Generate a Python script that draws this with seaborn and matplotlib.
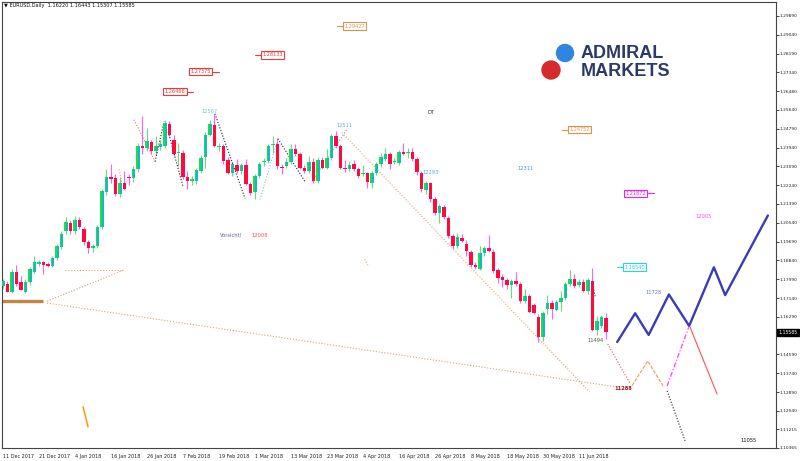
import matplotlib
matplotlib.use("Agg")
import matplotlib.pyplot as plt
import pandas as pd
import seaborn as sns
from matplotlib.patches import Ellipse

sns.set_theme(style="white")
plt.rcParams["font.family"] = ["DejaVu Sans"]

# --- EURUSD daily candles, 11 Dec 2017 .. 19 Jun 2018 ---
opens = [1.1770, 1.1778, 1.1743, 1.1830, 1.1785, 1.1743, 1.1785, 1.1830, 1.1868, 1.1875,
         1.1869, 1.1860, 1.1893, 1.1943, 1.2015, 1.2055, 1.2015, 1.2067, 1.2028, 1.1968,
         1.1938, 1.1950, 1.2033, 1.2193, 1.2262, 1.2255, 1.2183, 1.2235, 1.2262, 1.2255,
         1.2295, 1.2403, 1.2391, 1.2418, 1.2378, 1.2397, 1.2400, 1.2501, 1.2427, 1.2370,
         1.2370, 1.2262, 1.2243, 1.2243, 1.2288, 1.2352, 1.2453, 1.2498, 1.2397, 1.2400,
         1.2337, 1.2280, 1.2316, 1.2288, 1.2313, 1.2231, 1.2193, 1.2265, 1.2328, 1.2333,
         1.2405, 1.2408, 1.2306, 1.2310, 1.2330, 1.2388, 1.2363, 1.2303, 1.2288, 1.2330,
         1.2243, 1.2337, 1.2303, 1.2348, 1.2445, 1.2400, 1.2303, 1.2298, 1.2318, 1.2298,
         1.2273, 1.2277, 1.2235, 1.2280, 1.2318, 1.2343, 1.2363, 1.2330, 1.2322, 1.2375,
         1.2368, 1.2375, 1.2343, 1.2277, 1.2202, 1.2232, 1.2160, 1.2099, 1.2125, 1.2077,
         1.1994, 1.1950, 1.1987, 1.1957, 1.1924, 1.1864, 1.1847, 1.1916, 1.1938, 1.1923,
         1.1841, 1.1809, 1.1796, 1.1772, 1.1791, 1.1779, 1.1701, 1.1721, 1.1681, 1.1626,
         1.1540, 1.1663, 1.1693, 1.1660, 1.1697, 1.1716, 1.1776, 1.1799, 1.1772, 1.1787,
         1.1746, 1.1791, 1.1569, 1.1588, 1.16220]
highs = [1.1800, 1.1793, 1.1845, 1.1865, 1.1815, 1.1800, 1.1855, 1.1905, 1.1885, 1.1880,
         1.1878, 1.1905, 1.1960, 1.2015, 1.2078, 1.2065, 1.2085, 1.2080, 1.2035, 1.1975,
         1.1960, 1.2045, 1.2205, 1.2295, 1.2318, 1.2275, 1.2260, 1.2288, 1.2275, 1.2310,
         1.2415, 1.2535, 1.2483, 1.2430, 1.2448, 1.2430, 1.2517, 1.2513, 1.2450, 1.2415,
         1.2385, 1.2288, 1.2265, 1.2300, 1.2360, 1.2465, 1.2517, 1.2547, 1.2415, 1.2410,
         1.2350, 1.2330, 1.2343, 1.2325, 1.2343, 1.2240, 1.2275, 1.2330, 1.2345, 1.2410,
         1.2445, 1.2438, 1.2320, 1.2345, 1.2408, 1.2412, 1.2375, 1.2315, 1.2355, 1.2345,
         1.2350, 1.2350, 1.2388, 1.2455, 1.2468, 1.2410, 1.2340, 1.2335, 1.2340, 1.2305,
         1.2313, 1.2285, 1.2290, 1.2330, 1.2370, 1.2393, 1.2375, 1.2345, 1.2385, 1.2415,
         1.2393, 1.2390, 1.2350, 1.2290, 1.2245, 1.2240, 1.2170, 1.2140, 1.2135, 1.2085,
         1.2005, 1.2009, 1.2003, 1.1975, 1.1930, 1.1875, 1.1949, 1.1950, 1.1997, 1.1935,
         1.1850, 1.1821, 1.1805, 1.1800, 1.1832, 1.1785, 1.1754, 1.1730, 1.1690, 1.1640,
         1.1655, 1.1727, 1.1705, 1.1705, 1.1746, 1.1785, 1.1841, 1.1821, 1.1800, 1.1800,
         1.1806, 1.1851, 1.1633, 1.1635, 1.16443]
lows = [1.1760, 1.1740, 1.1735, 1.1770, 1.1748, 1.1737, 1.1775, 1.1825, 1.1860, 1.1823,
        1.1852, 1.1855, 1.1885, 1.1935, 1.2005, 1.2005, 1.2005, 1.2025, 1.1955, 1.1917,
        1.1923, 1.1940, 1.2025, 1.2180, 1.2235, 1.2175, 1.2170, 1.2200, 1.2225, 1.2240,
        1.2285, 1.2363, 1.2380, 1.2365, 1.2360, 1.2385, 1.2390, 1.2445, 1.2355, 1.2310,
        1.2250, 1.2208, 1.2225, 1.2230, 1.2280, 1.2303, 1.2445, 1.2395, 1.2380, 1.2320,
        1.2275, 1.2265, 1.2280, 1.2275, 1.2225, 1.2180, 1.2160, 1.2255, 1.2310, 1.2325,
        1.2370, 1.2295, 1.2273, 1.2300, 1.2320, 1.2355, 1.2295, 1.2280, 1.2280, 1.2235,
        1.2235, 1.2295, 1.2295, 1.2340, 1.2390, 1.2295, 1.2285, 1.2290, 1.2290, 1.2255,
        1.2265, 1.2212, 1.2212, 1.2270, 1.2305, 1.2335, 1.2295, 1.2320, 1.2315, 1.2360,
        1.2348, 1.2335, 1.2268, 1.2195, 1.2183, 1.2150, 1.2090, 1.2054, 1.2070, 1.1985,
        1.1935, 1.1940, 1.1965, 1.1905, 1.1855, 1.1845, 1.1840, 1.1905, 1.1920, 1.1828,
        1.1784, 1.1766, 1.1754, 1.1716, 1.1770, 1.1690, 1.1690, 1.1645, 1.1640, 1.1513,
        1.1521, 1.1641, 1.1618, 1.1656, 1.1656, 1.1705, 1.1770, 1.1760, 1.1765, 1.1740,
        1.1731, 1.1564, 1.1546, 1.1580, 1.15307]
closes = [1.1793, 1.1743, 1.1830, 1.1778, 1.1752, 1.1788, 1.1845, 1.1875, 1.1875, 1.1863,
          1.1860, 1.1893, 1.1947, 1.2003, 1.2058, 1.2015, 1.2067, 1.2033, 1.1968, 1.1938,
          1.1950, 1.2033, 1.2198, 1.2262, 1.2250, 1.2183, 1.2235, 1.2208, 1.2256, 1.2295,
          1.2403, 1.2391, 1.2424, 1.2378, 1.2400, 1.2412, 1.2505, 1.2453, 1.2363, 1.2373,
          1.2262, 1.2243, 1.2250, 1.2292, 1.2348, 1.2453, 1.2502, 1.2403, 1.2403, 1.2333,
          1.2280, 1.2318, 1.2288, 1.2313, 1.2231, 1.2190, 1.2265, 1.2318, 1.2333, 1.2400,
          1.2408, 1.2310, 1.2303, 1.2330, 1.2388, 1.2366, 1.2303, 1.2288, 1.2330, 1.2243,
          1.2337, 1.2303, 1.2348, 1.2445, 1.2400, 1.2303, 1.2298, 1.2313, 1.2298, 1.2265,
          1.2280, 1.2238, 1.2280, 1.2318, 1.2352, 1.2363, 1.2320, 1.2333, 1.2375, 1.2366,
          1.2372, 1.2343, 1.2284, 1.2205, 1.2232, 1.2160, 1.2099, 1.2129, 1.2081, 1.1994,
          1.1950, 1.1991, 1.1972, 1.1927, 1.1864, 1.1852, 1.1919, 1.1938, 1.1926, 1.1836,
          1.1806, 1.1796, 1.1772, 1.1791, 1.1779, 1.1701, 1.1724, 1.1652, 1.1648, 1.1540,
          1.1644, 1.1693, 1.1663, 1.1697, 1.1716, 1.1776, 1.1799, 1.1769, 1.1787, 1.1746,
          1.1796, 1.1569, 1.1608, 1.1626, 1.15585]

date_labels = ["11 Dec 2017", "21 Dec 2017", "4 Jan 2018", "16 Jan 2018", "26 Jan 2018",
               "7 Feb 2018", "19 Feb 2018", "1 Mar 2018", "13 Mar 2018", "23 Mar 2018",
               "4 Apr 2018", "16 Apr 2018", "26 Apr 2018", "8 May 2018", "18 May 2018",
               "30 May 2018", "11 Jun 2018"]
price_ticks = [1.29890, 1.29040, 1.28190, 1.27340, 1.26480, 1.25640, 1.24790, 1.23940,
               1.23090, 1.22240, 1.21390, 1.20540, 1.19690, 1.18840, 1.17990, 1.17140,
               1.16290, 1.14590, 1.13740, 1.12890, 1.12040, 1.11215, 1.10365]
last_price = 1.15585

# projected wave path (bar index, price)
proj_x = [136.5, 140.5, 143.5, 148.0, 152.5, 158.0, 160.5, 170.0]
proj_y = [1.1515, 1.1645, 1.1547, 1.1730, 1.1588, 1.1853, 1.1727, 1.2087]

# hand drawn lines on the chart (bar index, price)
base_x, base_y = [-0.2, 8.9], [1.1700, 1.1700]
fan_up_x, fan_up_y = [9.8, 26.7], [1.1700, 1.1839]
fan_flat_x, fan_flat_y = [13.8, 26.7], [1.1839, 1.1839]
fan_down_x, fan_down_y = [9.8, 136.4], [1.1691, 1.1312]
drop_x, drop_y = [75.3, 130.4], [1.2462, 1.1289]
tick_x, tick_y = [80.4, 81.1], [1.1889, 1.1862]
orange_x, orange_y = [17.8, 18.9], [1.1222, 1.1132]
zig_tan_x, zig_tan_y = [139.8, 143.3, 146.7], [1.1318, 1.1429, 1.1316]
red_dot_x, red_dot_y = [134.4, 139.3], [1.1506, 1.1330]
mag_x, mag_y = [147.6, 152.4], [1.1316, 1.1582]
red_x, red_y = [152.7, 158.7], [1.1582, 1.1280]
blk_x, blk_y = [147.6, 151.6], [1.1294, 1.1068]
w1_x, w1_y = [29.1, 33.8], [1.2520, 1.2331]
w2_x, w2_y = [33.8, 35.8], [1.2331, 1.2511]
w3_x, w3_y = [36.7, 40.0], [1.2466, 1.2218]
w4_x, w4_y = [25.8, 26.4], [1.2295, 1.2236]
w5_x, w5_y = [47.1, 53.8], [1.2547, 1.2164]
w6_x, w6_y = [57.1, 61.1], [1.2159, 1.2434]
w7_x, w7_y = [61.1, 67.1], [1.2434, 1.2241]
w8_x, w8_y = [68.7, 76.4], [1.2241, 1.2475]
w9_x, w9_y = [130.9, 131.6], [1.1790, 1.1722]

# price level boxes
level_vals = [1.26466, 1.27375, 1.28133, 1.29427, 1.24752, 1.21872, 1.18540]
level_bar = [35.6, 41.3, 57.3, 75.6, 125.6, 138.0, 137.8]
level_side = ["right", "right", "left", "left", "left", "right", "left"]
level_col = ["#F03A3A", "#F03A3A", "#F03A3A", "#D8944E", "#D8944E", "#F020F0", "#22D8E0"]

# text marks
notes = ["12567", "12511", "DT", "12293", "12311", "Vorsicht!", "12008",
         "12005", "11728", "11494", "11288", "11055"]
note_x = [44.2, 74.2, 94.4, 93.3, 114.4, 48.2, 55.1, 153.8, 142.7, 129.8, 135.8, 163.8]
note_y = [1.2556, 1.2493, 1.2552, 1.2281, 1.2299, 1.1997, 1.1997,
          1.2083, 1.1740, 1.1524, 1.1307, 1.1069]
note_col = ["#6CCCCC", "#6AAAEE", "#3A2A60", "#55AAEE", "#3C9AE0", "#6A5A9A", "#FF4A4A",
            "#FF44FF", "#6A78CC", "#555555", "#A01818", "#111111"]

df = pd.DataFrame({"o": opens, "h": highs, "l": lows, "c": closes})
df["i"] = range(len(df))
df["bull"] = df["c"] >= df["o"]

fig = plt.figure(figsize=(8, 4.61), dpi=100)
ax = fig.add_axes([2 / 800, 13 / 461, 774 / 800, 446 / 461])
ax.set_facecolor("white")

# wicks
wick_col = ["#66E070" if b else "#FF5CFF" for b in df["bull"]]
ax.vlines(df["i"], df["l"], df["h"], colors=wick_col, lw=0.8, zorder=2)

# bodies
body_lo = df[["o", "c"]].min(axis=1)
body_h = (df["c"] - df["o"]).abs().clip(lower=0.0003)
bull = df["bull"]
ax.bar(df["i"][bull] - 0.38, body_h[bull], width=0.38, bottom=body_lo[bull],
       align="edge", color="#1FDC4A", lw=0, zorder=3)
ax.bar(df["i"][bull], body_h[bull], width=0.38, bottom=body_lo[bull],
       align="edge", color="#12B8C8", lw=0, zorder=3)
ax.bar(df["i"][~bull], body_h[~bull], width=0.76, bottom=body_lo[~bull],
       color="#FF0A3C", lw=0, zorder=3)

dot = (0, (1, 1.6))
tan = "#E0A070"
ax.plot(base_x, base_y, color="#C8843F", lw=2.4, solid_capstyle="butt")
for xs, ys in [(fan_up_x, fan_up_y), (fan_flat_x, fan_flat_y), (fan_down_x, fan_down_y),
               (drop_x, drop_y), (tick_x, tick_y), (w4_x, w4_y)]:
    ax.plot(xs, ys, color=tan, lw=0.8, ls=dot)
ax.plot(orange_x, orange_y, color="#FF9410", lw=1.1)
ax.plot(zig_tan_x, zig_tan_y, color="#E8A870", lw=0.9, ls=(0, (3, 1)))
ax.plot(red_dot_x, red_dot_y, color="#FF4A4A", lw=0.8, ls=dot)
ax.plot(mag_x, mag_y, color="#FF40FF", lw=0.9, ls=(0, (4, 1.5, 1, 1.5)))
ax.plot(red_x, red_y, color="#FF5050", lw=0.8)
ax.plot(blk_x, blk_y, color="#222222", lw=0.8, ls=dot)
ax.plot(w1_x, w1_y, color="#FF6060", lw=0.8, ls=dot)
for xs, ys in [(w2_x, w2_y), (w3_x, w3_y), (w5_x, w5_y), (w7_x, w7_y), (w9_x, w9_y)]:
    ax.plot(xs, ys, color="#222222", lw=0.8, ls=dot)
ax.plot(w6_x, w6_y, color="#88C0F0", lw=0.8, ls=dot)
ax.plot(w8_x, w8_y, color="#8AA0D0", lw=0.8, ls=dot)

# projection
proj = pd.DataFrame({"bar": proj_x, "price": proj_y})
sns.lineplot(data=proj, x="bar", y="price", ax=ax, color="#3B3BB8", lw=1.7, sort=False)

# level boxes
for v, b, side, col in zip(level_vals, level_bar, level_side, level_col):
    if side == "left":
        ax.plot([b - 1.3, b], [v, v], color=col, lw=0.8)
    else:
        ax.plot([b + 5.3, b + 6.6], [v, v], color=col, lw=0.8)
    ax.text(b + 0.35, v, f"{v:.5f}", fontsize=3.6, color=col, ha="left", va="center",
            bbox=dict(boxstyle="square,pad=0.25", fc="white", ec=col, lw=0.8), zorder=6)

for t, x, y, col in zip(notes, note_x, note_y, note_col):
    ax.text(x, y, t, fontsize=3.7, color=col, ha="left", va="center",
            fontweight="bold" if t == "11288" else "normal", zorder=6)

ax.set_xlim(-0.22, 171.8)
ax.set_ylim(1.1036, 1.3052)
ax.set_xlabel("")
ax.set_ylabel("")

ax.set_xticks(range(0, 8 * len(date_labels), 8))
ax.set_xticklabels(date_labels, ha="left", fontsize=3.5, color="#222222")
ax.yaxis.tick_right()
ax.set_yticks(price_ticks)
ax.set_yticklabels([f"{p:.5f}" for p in price_ticks], fontsize=3.2, color="#222222")
ax.tick_params(axis="x", direction="out", length=2.5, width=0.6, pad=1.5, colors="#222222")
ax.tick_params(axis="y", direction="out", length=2.0, width=0.6, pad=0.8, colors="#222222")
for lab in ax.get_xticklabels():
    lab.set_horizontalalignment("left")
for s in ax.spines.values():
    s.set_color("#444444")
    s.set_linewidth(0.8)

ax.text(1.003, last_price, f"{last_price:.5f}", transform=ax.get_yaxis_transform(),
        fontsize=3.3, color="white", ha="left", va="center", clip_on=False, zorder=10,
        bbox=dict(boxstyle="square,pad=0.3", fc="black", ec="black"))

# header
fig.text(4 / 800, 1 - 6 / 461, "\u25bc EURUSD,Daily  1.16220 1.16443 1.15307 1.15585",
         fontsize=3.6, color="#111111", ha="left", va="center")

# logo
fig.add_artist(Ellipse((565 / 800, 1 - 53 / 461), 17 / 800, 17 / 461, color="#2F86E0"))
fig.add_artist(Ellipse((551 / 800, 1 - 70 / 461), 18 / 800, 18 / 461, color="#D52B2B"))
fig.text(581 / 800, 1 - 53 / 461, "ADMIRAL", family=["Liberation Sans"], fontweight="bold",
         fontsize=13, color="#2B3A68", ha="left", va="center")
fig.text(581 / 800, 1 - 71 / 461, "MARKETS", family=["Liberation Sans"], fontweight="bold",
         fontsize=13, color="#2B3A68", ha="left", va="center")

fig.savefig("out.png", dpi=100, facecolor="white")
